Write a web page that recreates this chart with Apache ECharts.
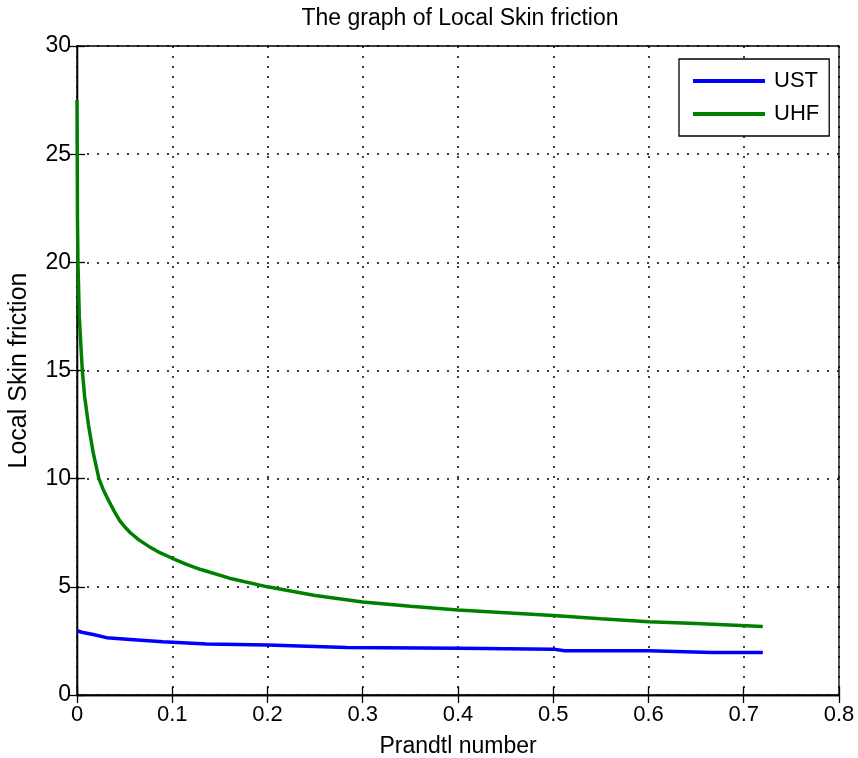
<!DOCTYPE html>
<html>
<head>
<meta charset="utf-8">
<script src="https://cdn.jsdelivr.net/npm/echarts@6/dist/echarts.min.js"></script>
<style>
html,body{margin:0;padding:0;background:#fff;}
#chart{width:858px;height:758px;}
</style>
</head>
<body>
<div id="chart"></div>
<script>
const titleText = "The graph of Local Skin friction";
const xName = "Prandtl number";
const yName = "Local Skin friction";
const seriesNames = ["UST", "UHF"];

const ustX = [0, 0.005, 0.017, 0.031, 0.056, 0.09, 0.136, 0.2, 0.283, 0.4, 0.5, 0.512, 0.6, 0.667, 0.72];
const ustY = [2.98, 2.9, 2.8, 2.65, 2.57, 2.46, 2.36, 2.31, 2.2, 2.16, 2.12, 2.05, 2.05, 1.96, 1.96];

const uhfX = [0, 0.0005, 0.001, 0.0024, 0.004, 0.0056, 0.008, 0.012, 0.017, 0.023, 0.028, 0.033, 0.039, 0.045, 0.05, 0.056, 0.065, 0.075, 0.087, 0.1, 0.115, 0.13, 0.16, 0.2, 0.25, 0.3, 0.35, 0.4, 0.45, 0.5, 0.55, 0.6, 0.65, 0.72];
const uhfY = [27.5, 22, 20, 17.5, 16.2, 15, 13.8, 12.5, 11.2, 10, 9.45, 9, 8.5, 8.05, 7.78, 7.5, 7.17, 6.88, 6.58, 6.32, 6.04, 5.8, 5.4, 5.0, 4.6, 4.3, 4.1, 3.93, 3.8, 3.67, 3.52, 3.39, 3.3, 3.17];

const FONT = "Liberation Sans";
const zip = (xs, ys) => xs.map((x, i) => [x, ys[i]]);

const chart = echarts.init(document.getElementById('chart'), null, {renderer: 'canvas'});
const grid = {left: 77, right: 19, top: 46, bottom: 63, outerBoundsMode: 'none', containLabel: false,
  show: true, borderColor: '#000', borderWidth: 1.3, backgroundColor: '#fff'};
const dotted = {show: true, lineStyle: {color: '#000', type: [2, 8], width: 1.5}};

chart.setOption({
  backgroundColor: '#fff',
  animation: false,
  title: {
    text: titleText, left: 455, textAlign: 'center', top: 2,
    textStyle: {fontFamily: FONT, fontSize: 23, fontWeight: 'normal', color: '#000'}
  },
  legend: {
    left: 679, top: 59, orient: 'vertical',
    backgroundColor: '#fff', borderColor: '#000', borderWidth: 1.3,
    padding: [10, 10, 10, 14], itemGap: 9,
    itemWidth: 72, itemHeight: 4, icon: 'rect',
    textStyle: {fontFamily: FONT, fontSize: 22, lineHeight: 24, color: '#000', padding: [0, 0, 0, 4]},
    data: seriesNames
  },
  grid: grid,
  xAxis: [{
    type: 'value', min: 0, max: 0.8, interval: 0.1,
    name: xName, nameLocation: 'middle', nameGap: 40,
    nameTextStyle: {fontFamily: FONT, fontSize: 23, color: '#000'},
    axisLine: {show: true, onZero: false, lineStyle: {color: '#000', width: 1.3}},
    axisTick: {show: true, inside: true, length: 8, lineStyle: {color: '#000', width: 1.3}},
    axisLabel: {fontFamily: FONT, fontSize: 22, color: '#000', margin: 9},
    splitLine: dotted
  }, {
    type: 'value', position: 'top', min: 0, max: 0.8, interval: 0.1,
    axisLine: {show: true, lineStyle: {color: '#000', width: 1.3}},
    axisTick: {show: true, inside: true, length: 8, lineStyle: {color: '#000', width: 1.3}},
    axisLabel: {show: false}, splitLine: {show: false}
  }],
  yAxis: [{
    type: 'value', min: 0, max: 30, interval: 5,
    name: yName, nameLocation: 'middle', nameGap: 45,
    nameTextStyle: {fontFamily: FONT, fontSize: 25, color: '#000'},
    axisLine: {show: true, onZero: false, lineStyle: {color: '#000', width: 1.3}},
    axisTick: {show: true, inside: true, length: 8, lineStyle: {color: '#000', width: 1.3}},
    axisLabel: {fontFamily: FONT, fontSize: 23, color: '#000', margin: 6},
    splitLine: dotted
  }, {
    type: 'value', position: 'right', min: 0, max: 30, interval: 5,
    axisLine: {show: true, lineStyle: {color: '#000', width: 1.3}},
    axisTick: {show: true, inside: true, length: 8, lineStyle: {color: '#000', width: 1.3}},
    axisLabel: {show: false}, splitLine: {show: false}
  }],
  series: [{
    name: seriesNames[0], type: 'line', xAxisIndex: 0, yAxisIndex: 0,
    data: zip(ustX, ustY), showSymbol: false, symbol: 'none', smooth: false,
    color: '#0000ff', lineStyle: {color: '#0000ff', width: 3.5}
  }, {
    name: seriesNames[1], type: 'line', xAxisIndex: 0, yAxisIndex: 0,
    data: zip(uhfX, uhfY), showSymbol: false, symbol: 'none', smooth: false,
    color: '#008000', lineStyle: {color: '#008000', width: 3.5}
  }]
});
</script>
</body>
</html>
